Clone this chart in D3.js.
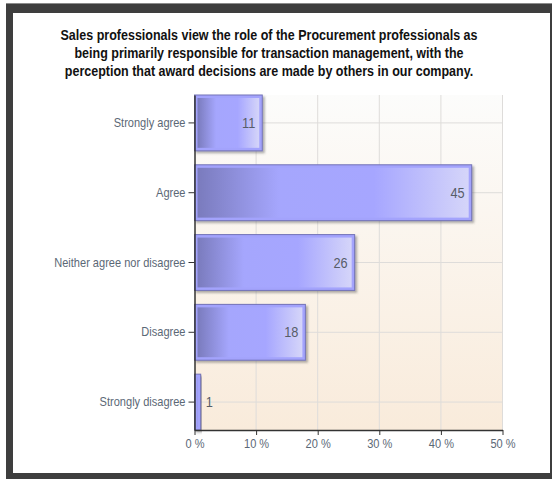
<!DOCTYPE html>
<html>
<head>
<meta charset="utf-8">
<script src="https://cdn.jsdelivr.net/npm/d3@7/dist/d3.min.js"></script>
<style>
  html, body { margin: 0; padding: 0; background: #ffffff; }
  svg { display: block; }
  text { font-family: "Liberation Sans", Arial, sans-serif; }
</style>
</head>
<body>
<svg id="chart" width="552" height="479"></svg>
<script>
// Survey answers and the share of respondents for each
const categories = ["Strongly agree", "Agree", "Neither agree nor disagree", "Disagree", "Strongly disagree"];
const values = [11, 45, 26, 18, 1];
const xTicks = [0, 10, 20, 30, 40, 50];
const titleLines = [
  "Sales professionals view the role of the Procurement professionals as",
  "being primarily responsible for transaction management, with the",
  "perception that award decisions are made by others in our company."
];

const W = 552, H = 479;
const plot = { left: 194.5, right: 502.5, top: 95, bottom: 430 };
const titleSqueeze = 0.835; // horizontal squeeze of the title text
const labelSqueeze = 0.85;  // horizontal squeeze of axis and value labels

const svg = d3.select("#chart");
const defs = svg.append("defs");

// plot background: near white at top fading to warm beige
const bg = defs.append("linearGradient").attr("id", "plotBg")
  .attr("x1", 0).attr("y1", 0).attr("x2", 0).attr("y2", 1);
bg.append("stop").attr("offset", "0%").attr("stop-color", "#fcfcfb");
bg.append("stop").attr("offset", "100%").attr("stop-color", "#f9ebdb");

// bar fill: dark periwinkle on the left, bright in the middle, pale at the end
const barGrad = defs.append("linearGradient").attr("id", "barFill")
  .attr("x1", 0).attr("y1", 0).attr("x2", 1).attr("y2", 0);
[["0%", "#7a7bbd"], ["30%", "#a5a6fd"], ["65%", "#a6a6ff"], ["100%", "#d5d5f9"]]
  .forEach(([o, c]) => barGrad.append("stop").attr("offset", o).attr("stop-color", c));

const shadow = defs.append("filter").attr("id", "barShadow")
  .attr("x", "-10%").attr("y", "-10%").attr("width", "130%").attr("height", "140%");
shadow.append("feDropShadow").attr("dx", 2).attr("dy", 2).attr("stdDeviation", 1.2)
  .attr("flood-color", "#555").attr("flood-opacity", 0.45);

// outer frame
svg.append("rect").attr("x", 6).attr("y", 3).attr("width", W - 6).attr("height", H - 3).attr("fill", "#3e3e3e");
svg.append("rect").attr("x", 6).attr("y", 3).attr("width", W - 6).attr("height", 1).attr("fill", "#8c8c8c");
svg.append("rect").attr("x", 13).attr("y", 13).attr("width", 537).attr("height", 460).attr("fill", "#ffffff");

// title
const title = svg.append("g");
titleLines.forEach((line, i) => {
  title.append("text")
    .attr("transform", `translate(269,${40 + i * 18}) scale(${titleSqueeze},1)`)
    .attr("text-anchor", "middle")
    .attr("font-size", 15)
    .attr("font-weight", "bold")
    .attr("fill", "#111")
    .text(line);
});

const x = d3.scaleLinear().domain([0, 50]).range([plot.left, plot.right]);
const y = d3.scaleBand().domain(categories).range([plot.top, plot.bottom])
  .paddingInner(0.2).paddingOuter(0);

// background and grid
svg.append("rect")
  .attr("x", plot.left).attr("y", plot.top)
  .attr("width", plot.right - plot.left).attr("height", plot.bottom - plot.top)
  .attr("fill", "url(#plotBg)");

const grid = svg.append("g").attr("stroke", "#dedcda").attr("stroke-width", 1);
grid.selectAll("line.v").data(xTicks.slice(1)).join("line")
  .attr("x1", d => x(d)).attr("x2", d => x(d))
  .attr("y1", plot.top).attr("y2", plot.bottom);
grid.selectAll("line.h").data(categories).join("line")
  .attr("x1", plot.left).attr("x2", plot.right)
  .attr("y1", d => y(d) + y.bandwidth() / 2).attr("y2", d => y(d) + y.bandwidth() / 2);

// bars
const rows = categories.map((c, i) => ({ c, v: values[i] }));
const bars = svg.append("g").selectAll("g").data(rows).join("g")
  .attr("filter", "url(#barShadow)");
bars.append("rect")
  .attr("x", plot.left).attr("y", d => y(d.c))
  .attr("width", d => x(d.v) - plot.left).attr("height", y.bandwidth())
  .attr("fill", "#a3a3fc").attr("stroke", "#7474b8").attr("stroke-width", 1);
bars.append("rect")
  .attr("x", plot.left + 3).attr("y", d => y(d.c) + 3)
  .attr("width", d => Math.max(0, x(d.v) - plot.left - 6)).attr("height", y.bandwidth() - 6)
  .attr("fill", "url(#barFill)");

// value labels: inside the bar end, or just past it when the bar is too short
const fitsInside = d => x(d.v) - plot.left > 30;
svg.append("g").selectAll("text").data(rows).join("text")
  .attr("transform", d => {
    const tx = fitsInside(d) ? x(d.v) - 7 : x(d.v) + 5;
    return `translate(${tx},${y(d.c) + y.bandwidth() / 2 + 5}) scale(${labelSqueeze},1)`;
  })
  .attr("text-anchor", d => (fitsInside(d) ? "end" : "start"))
  .attr("font-size", 15)
  .attr("fill", "#575d68")
  .text(d => d.v);

// axes
const yAxis = svg.append("g").attr("transform", `translate(${plot.left},0)`)
  .call(d3.axisLeft(y).tickSizeInner(6).tickSizeOuter(0).tickPadding(3));
const xAxis = svg.append("g").attr("transform", `translate(0,${plot.bottom})`)
  .call(d3.axisBottom(x).tickValues(xTicks).tickFormat(d => d + " %").tickSizeInner(5).tickSizeOuter(0).tickPadding(4));

[yAxis, xAxis].forEach(a => {
  a.select(".domain").attr("stroke", "#333").attr("stroke-width", 1.5);
  a.selectAll(".tick line").attr("stroke", "#333");
  a.selectAll(".tick text")
    .attr("font-family", "'Liberation Sans', Arial, sans-serif")
    .attr("font-size", 13)
    .attr("fill", "#5b6876");
});
yAxis.selectAll(".tick text").each(function () {
  const t = d3.select(this);
  const tx = +t.attr("x");
  t.attr("x", null).attr("transform", `translate(${tx},0) scale(${labelSqueeze},1)`);
});
xAxis.selectAll(".tick text").attr("transform", `scale(${labelSqueeze},1)`);
</script>
</body>
</html>
